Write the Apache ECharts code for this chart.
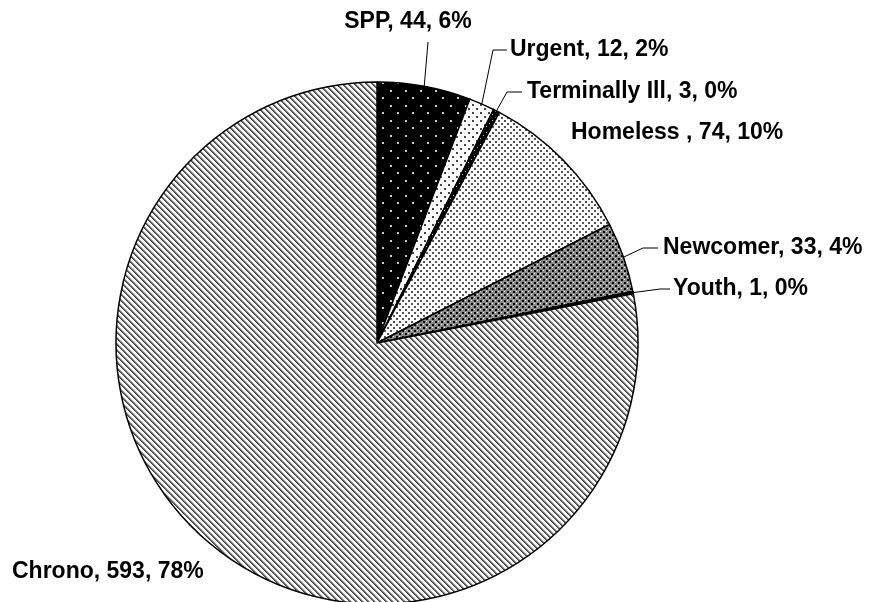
<!DOCTYPE html>
<html>
<head>
<meta charset="utf-8">
<script src="https://cdn.jsdelivr.net/npm/echarts@6/dist/echarts.min.js"></script>
<style>
html,body{margin:0;padding:0;background:#fff;}
#chart{width:871px;height:602px;}
</style>
</head>
<body>
<div id="chart"></div>
<script>
// ---- data ----
const categories = ['SPP', 'Urgent', 'Terminally Ill', 'Homeless ', 'Newcomer', 'Youth', 'Chrono'];
const values = [44, 12, 3, 74, 33, 1, 593];

// ---- label layout (positions of text labels and leader elbows) ----
const labelPos = [
  {x: 408, y: 22, align: 'center', line: [[428, 42], [428, 42]]},
  {x: 510, y: 50, align: 'left', line: [[493, 50], [507, 50]]},
  {x: 527, y: 92, align: 'left', line: [[507, 92], [522, 92]]},
  {x: 571, y: 133, align: 'left', line: null},
  {x: 663, y: 248, align: 'left', line: [[643, 248], [658, 248]]},
  {x: 673, y: 289, align: 'left', line: [[660, 289], [670, 289]]},
  {x: 12, y: 572, align: 'left', line: null}
];

// ---- patterns ----
function makeTile(w, h, draw) {
  const c = document.createElement('canvas');
  c.width = w; c.height = h;
  const g = c.getContext('2d');
  draw(g, w, h);
  return {image: c, repeat: 'repeat'};
}
function dotsPattern(size, bg, fg, dot) {
  return makeTile(size, size, function (g, w, h) {
    g.fillStyle = bg; g.fillRect(0, 0, w, h);
    g.fillStyle = fg;
    const half = Math.floor(size / 2);
    g.fillRect(0, 0, dot, dot);
    g.fillRect(half, half, dot, dot);
  });
}
const patSPP = dotsPattern(15, '#000', '#c8c8c8', 2);
const patUrgent = dotsPattern(8, '#fff', '#444', 2);
const patTerm = dotsPattern(6, '#000', '#bbb', 1);
const patHomeless = dotsPattern(6, '#fff', '#555', 2);
const patNewcomer = makeTile(6, 6, function (g, w, h) {
  g.fillStyle = '#8a8a8a'; g.fillRect(0, 0, w, h);
  g.fillStyle = '#000';
  g.fillRect(0, 0, 2, 2); g.fillRect(3, 3, 2, 2);
  g.fillStyle = '#fff';
  g.fillRect(0, 3, 1, 1); g.fillRect(3, 0, 1, 1);
});
const patChrono = makeTile(6, 6, function (g, w, h) {
  g.fillStyle = '#fff'; g.fillRect(0, 0, w, h);
  for (let y = 0; y < h; y++) {
    for (let x = 0; x < w; x++) {
      const m = ((x - y) % 6 + 6) % 6;
      if (m === 0) { g.fillStyle = '#444'; g.fillRect(x, y, 1, 1); }
      else if (m === 1) { g.fillStyle = '#6a6a6a'; g.fillRect(x, y, 1, 1); }
      else if (m === 2) { g.fillStyle = '#b0b0b0'; g.fillRect(x, y, 1, 1); }
    }
  }
});
const patterns = [patSPP, patUrgent, patTerm, patHomeless, patNewcomer, '#111', patChrono];

const seriesData = categories.map(function (name, i) {
  const item = {name: name, value: values[i], itemStyle: {color: patterns[i]}};
  if (!labelPos[i].line) item.labelLine = {show: false};
  return item;
});

const chart = echarts.init(document.getElementById('chart'), null, {renderer: 'canvas'});
chart.setOption({
  animation: false,
  backgroundColor: '#fff',
  series: [{
    type: 'pie',
    center: [377, 343],
    radius: 261,
    startAngle: 90,
    clockwise: true,
    avoidLabelOverlap: false,
    percentPrecision: 0,
    silent: true,
    itemStyle: {borderColor: '#000', borderWidth: 1.5},
    label: {
      show: true,
      position: 'outside',
      formatter: '{b}, {c}, {d}%',
      color: '#000',
      fontFamily: '"Liberation Sans", Arial, sans-serif',
      fontWeight: 'bold',
      fontSize: 23
    },
    labelLine: {show: true, lineStyle: {color: '#000', width: 1}},
    emphasis: {disabled: true},
    labelLayout: function (p) {
      const L = labelPos[p.dataIndex];
      const res = {x: L.x, y: L.y, align: L.align, verticalAlign: 'middle'};
      if (L.line && p.labelLinePoints) {
        res.labelLinePoints = [p.labelLinePoints[0], L.line[0], L.line[1]];
      }
      return res;
    },
    data: seriesData
  }]
});
</script>
</body>
</html>
